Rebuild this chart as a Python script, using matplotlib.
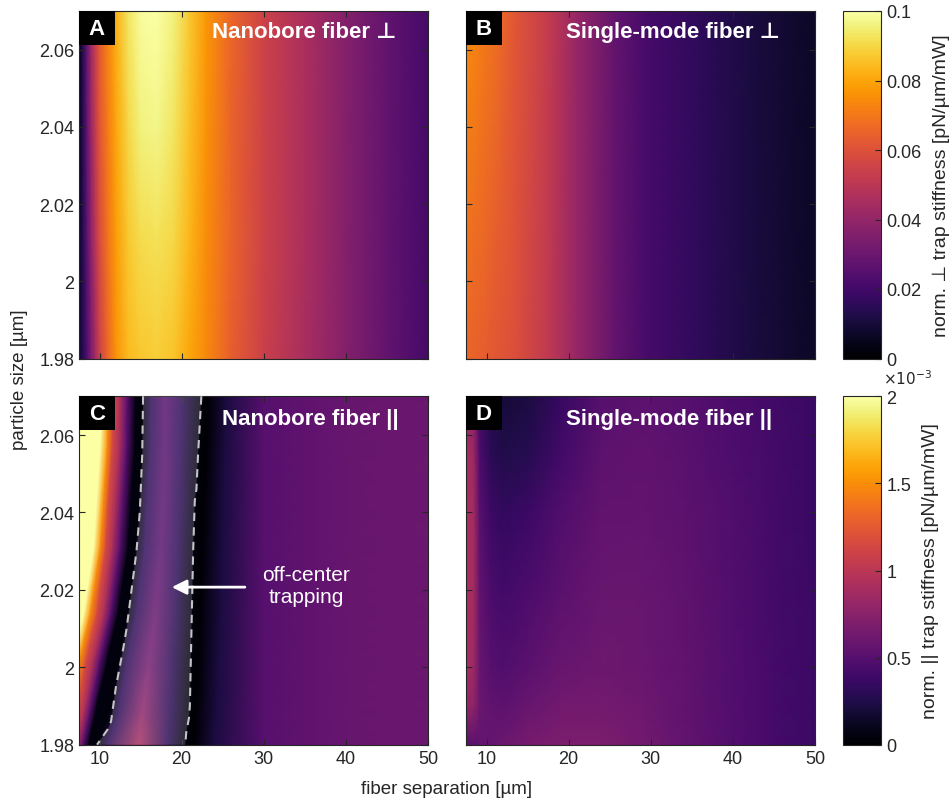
import numpy as np
import matplotlib
matplotlib.use("Agg")
import matplotlib.pyplot as plt
from matplotlib.patches import Rectangle

plt.rcParams['font.family'] = ['Liberation Sans', 'DejaVu Sans']
TXT = '#262626'

# ---------------- data ----------------
# Panel A (nanobore, perpendicular) [pN/um/mW]
a_x = [7.5, 8.0, 8.5, 9.0, 9.5, 10, 11, 12, 13.5, 15, 17, 19, 21, 23, 26, 30, 35, 40, 45, 50]
a_y = [1.98, 2.01, 2.04, 2.07]
a_vals = [
    [0.008, 0.015, 0.024, 0.034, 0.044, 0.054, 0.066, 0.076, 0.084, 0.087, 0.088, 0.086, 0.080, 0.074, 0.064, 0.054, 0.045, 0.036, 0.028, 0.021],
    [0.006, 0.015, 0.027, 0.039, 0.049, 0.058, 0.069, 0.078, 0.087, 0.091, 0.092, 0.090, 0.083, 0.075, 0.065, 0.055, 0.046, 0.036, 0.028, 0.021],
    [0.004, 0.015, 0.029, 0.042, 0.052, 0.061, 0.071, 0.080, 0.090, 0.096, 0.097, 0.093, 0.085, 0.076, 0.065, 0.055, 0.046, 0.036, 0.028, 0.021],
    [0.003, 0.015, 0.030, 0.044, 0.054, 0.063, 0.073, 0.082, 0.093, 0.099, 0.100, 0.096, 0.087, 0.077, 0.066, 0.055, 0.046, 0.036, 0.028, 0.021],
]

# Panel B (single-mode, perpendicular)
b_x = [7.5, 10, 13.6, 17.6, 20.9, 25.7, 29.8, 35.8, 41.9, 50]
b_y = [1.98, 2.07]
b_vals = [
    [0.066, 0.063, 0.059, 0.051, 0.041, 0.028, 0.021, 0.016, 0.011, 0.007],
    [0.075, 0.070, 0.061, 0.052, 0.041, 0.028, 0.021, 0.016, 0.011, 0.007],
]

# Panel C (nanobore, parallel), values in 1e-3 pN/um/mW
# rows of particle size, columns follow features of the map
c_rows_y = [1.98, 1.988, 2.001, 2.014, 2.031, 2.057, 2.07]
c_feature_x = [
    [3.0, 4.6, 5.5, 6.5, 7.3, 8.0, 8.7, 9.7, 11.0, 14.8, 18.3, 20.5, 21.5, 24.0, 30, 40, 50.5],
    [4.0, 5.6, 6.4, 7.3, 8.1, 8.8, 9.5, 11.2, 12.3, 15.2, 18.5, 20.7, 21.7, 24.3, 30, 40, 50.5],
    [5.0, 6.7, 7.5, 8.3, 9.2, 10.0, 10.9, 12.2, 13.3, 16.0, 18.8, 21.0, 22.0, 24.5, 30, 40, 50.5],
    [5.0, 8.1, 8.9, 9.7, 10.6, 11.4, 12.3, 13.4, 14.5, 16.8, 19.2, 21.2, 22.2, 24.8, 30, 40, 50.5],
    [5.0, 9.3, 10.1, 10.75, 11.6, 12.5, 13.5, 14.4, 15.5, 17.5, 19.5, 21.5, 22.5, 25.0, 30, 40, 50.5],
    [5.0, 10.1, 10.95, 11.55, 12.45, 13.3, 14.3, 15.2, 16.2, 18.0, 19.9, 22.1, 23.0, 25.3, 30, 40, 50.5],
    [5.0, 10.4, 11.1, 11.7, 12.55, 13.4, 14.4, 15.3, 16.3, 18.0, 20.0, 22.4, 23.2, 25.5, 30, 40, 50.5],
]
c_feature_vals = [2.3, 2.0, 1.5, 1.15, 0.9, 0.5, 0.06, 0.04, 0.3, 0.5, 0.3, 0.05, 0.0, 0.22, 0.5, 0.58, 0.6]
c_peak_vals = [0.9, 0.78, 0.65, 0.58, 0.52, 0.5, 0.5]

# dashed boundaries of off-center trapping region
c_left_x = [15.3, 15.2, 14.9, 14.5, 13.9, 13.3, 12.9, 12.0, 11.4, 11.0, 9.7]
c_left_y = [2.07, 2.055, 2.04, 2.03, 2.02, 2.01, 2.005, 1.995, 1.986, 1.984, 1.98]
c_right_x = [22.4, 22.0, 21.8, 21.6, 21.4, 21.2, 21.0, 20.9, 20.55, 20.45]
c_right_y = [2.07, 2.055, 2.046, 2.043, 2.03, 2.01, 1.99, 1.987, 1.983, 1.98]

# Panel D (single-mode, parallel), values in 1e-3
d_x = [7.5, 8.4, 9.2, 10.5, 12, 15, 19, 24, 29, 34, 40, 45, 50]
d_y = [1.98, 1.99, 2.00, 2.02, 2.04, 2.055, 2.07]
d_vals = [
    [0.50, 0.52, 0.55, 0.57, 0.60, 0.65, 0.68, 0.68, 0.63, 0.56, 0.48, 0.42, 0.37],
    [0.80, 0.78, 0.60, 0.55, 0.53, 0.58, 0.63, 0.64, 0.61, 0.55, 0.48, 0.42, 0.37],
    [0.90, 0.85, 0.58, 0.50, 0.47, 0.52, 0.58, 0.61, 0.59, 0.55, 0.48, 0.42, 0.37],
    [0.92, 0.88, 0.55, 0.45, 0.40, 0.45, 0.52, 0.58, 0.58, 0.54, 0.47, 0.41, 0.37],
    [0.92, 0.88, 0.50, 0.38, 0.33, 0.37, 0.47, 0.55, 0.56, 0.53, 0.47, 0.41, 0.36],
    [0.90, 0.85, 0.45, 0.30, 0.25, 0.28, 0.40, 0.53, 0.55, 0.52, 0.46, 0.41, 0.36],
    [0.80, 0.75, 0.40, 0.25, 0.20, 0.22, 0.35, 0.50, 0.53, 0.50, 0.45, 0.40, 0.36],
]

x_ticks = [10, 20, 30, 40, 50]
y_ticks = [1.98, 2.0, 2.02, 2.04, 2.06]
top_cb_ticks = [0, 0.02, 0.04, 0.06, 0.08, 0.1]
bot_cb_ticks_e3 = [0, 0.5, 1, 1.5, 2]

titles = ['Nanobore fiber \u22a5', 'Single-mode fiber \u22a5', 'Nanobore fiber ||', 'Single-mode fiber ||']
letters = ['A', 'B', 'C', 'D']

# ---------------- figure ----------------
fig = plt.figure(figsize=(9.53, 8.03), dpi=100)
W, H = 953, 803
def rect(l, t, r, b):
    return [l / W, 1 - b / H, (r - l) / W, (b - t) / H]

axA = fig.add_axes(rect(79, 12, 428, 359.5))
axB = fig.add_axes(rect(466, 12, 815, 359.5))
axC = fig.add_axes(rect(79, 397.3, 428, 745.7))
axD = fig.add_axes(rect(466, 397.3, 815, 745.7))
caxT = fig.add_axes(rect(843, 12, 881.5, 359.5))
caxB = fig.add_axes(rect(843, 397.3, 881.5, 745.7))

cmap = 'inferno'
mA = axA.pcolormesh(a_x, a_y, np.array(a_vals), shading='gouraud', cmap=cmap, vmin=0, vmax=0.1, rasterized=True)
axB.pcolormesh(b_x, b_y, np.array(b_vals), shading='gouraud', cmap=cmap, vmin=0, vmax=0.1, rasterized=True)

CX = np.array(c_feature_x)
CY = np.repeat(np.array(c_rows_y)[:, None], CX.shape[1], axis=1)
CV = np.tile(np.array(c_feature_vals), (CX.shape[0], 1))
CV[:, 9] = c_peak_vals
mC = axC.pcolormesh(CX, CY, CV * 1e-3, shading='gouraud', cmap=cmap, vmin=0, vmax=2e-3, rasterized=True)
axD.pcolormesh(d_x, d_y, np.array(d_vals) * 1e-3, shading='gouraud', cmap=cmap, vmin=0, vmax=2e-3, rasterized=True)

# off-center trapping region overlay
poly_x = list(c_left_x) + list(c_right_x[::-1])
poly_y = list(c_left_y) + list(c_right_y[::-1])
axC.fill(poly_x, poly_y, color='white', alpha=0.17, lw=0, zorder=3)
for xs, ys in [(c_left_x, c_left_y), (c_right_x, c_right_y)]:
    axC.plot(xs, ys, color='#c4c4c4', lw=1.5, ls=(0, (4, 3)), zorder=4)

axC.annotate('', xy=(18.8, 2.0207), xytext=(27.7, 2.0207),
             arrowprops=dict(arrowstyle='-|>', color='white', lw=2, mutation_scale=22, shrinkA=0, shrinkB=0), zorder=6)
axC.text(35.2, 2.021, 'off-center\ntrapping', color='white', fontsize=15, ha='center', va='center',
         linespacing=1.2, zorder=6)

title_pos = [0.380, 0.286, 0.409, 0.286]
for ax, t, lt, tx in zip([axA, axB, axC, axD], titles, letters, title_pos):
    ax.set_xlim(7.5, 50)
    ax.set_ylim(1.98, 2.07)
    ax.set_xticks(x_ticks)
    ax.set_yticks(y_ticks)
    ax.tick_params(direction='in', length=4, width=0.8, colors=TXT, labelsize=13,
                   top=True, right=True, labelcolor=TXT)
    ax.yaxis.set_major_formatter(matplotlib.ticker.FormatStrFormatter('%g'))
    for s in ax.spines.values():
        s.set_color(TXT)
        s.set_linewidth(0.8)
    ty = 0.94 if ax in (axA, axB) else 0.935
    ax.text(tx, ty, t, transform=ax.transAxes, color='white', fontsize=16, fontweight='bold',
            ha='left', va='center', zorder=7)
    ax.add_patch(Rectangle((0, 1 - 0.0977), 0.103, 0.0977, transform=ax.transAxes,
                           facecolor='black', edgecolor='none', zorder=7))
    ax.text(0.0515, 1 - 0.049, lt, transform=ax.transAxes, color='white', fontsize=16,
            fontweight='bold', ha='center', va='center', zorder=8)

for ax in (axA, axB):
    ax.tick_params(labelbottom=False)
for ax in (axB, axD):
    ax.tick_params(labelleft=False)

cbT = fig.colorbar(mA, cax=caxT)
cbT.set_ticks(top_cb_ticks)
cbT.ax.yaxis.set_major_formatter(matplotlib.ticker.FormatStrFormatter('%g'))
cbB = fig.colorbar(mC, cax=caxB)
cbB.set_ticks([v * 1e-3 for v in bot_cb_ticks_e3])
cbB.set_ticklabels(['%g' % v for v in bot_cb_ticks_e3])
for cb, lab in [(cbT, 'norm. \u22a5 trap stiffness [pN/\u00b5m/mW]'),
                (cbB, 'norm. || trap stiffness [pN/\u00b5m/mW]')]:
    cb.outline.set_edgecolor(TXT)
    cb.outline.set_linewidth(0.8)
    cb.ax.tick_params(direction='in', length=4, width=0.8, colors=TXT, labelsize=13, labelcolor=TXT)
    cb.set_label(lab, fontsize=14, color=TXT, labelpad=8)

fig.text(883 / W, 1 - 385 / H, r'$\times10^{-3}$', fontsize=11, color=TXT, ha='left', va='baseline')

fig.text(20 / W, 1 - 380 / H, 'particle size [\u00b5m]', rotation=90, fontsize=13.5, color=TXT,
         ha='center', va='center')
fig.text(447 / W, 1 - 790 / H, 'fiber separation [\u00b5m]', fontsize=13.5, color=TXT,
         ha='center', va='center')

fig.savefig('out.png', dpi=100)
